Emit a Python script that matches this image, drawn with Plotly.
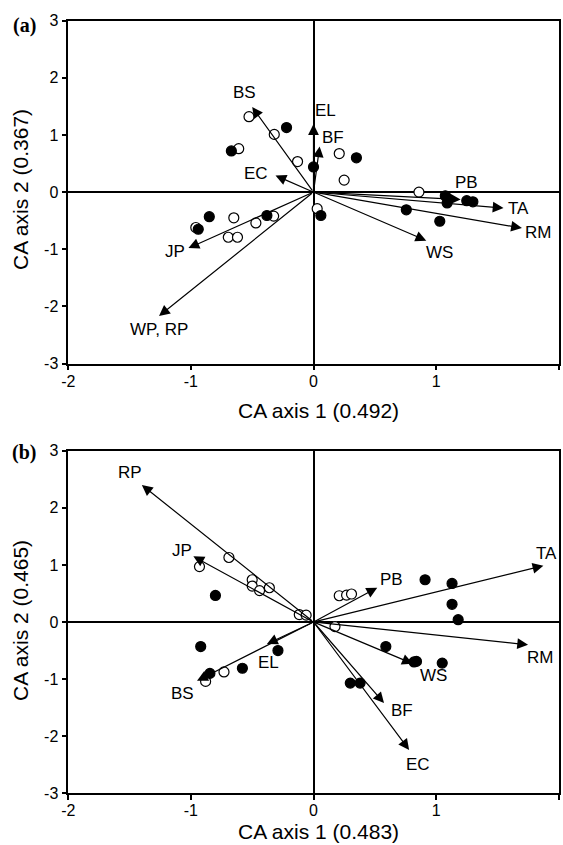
import plotly.graph_objects as go

# ---------------- Panel (a) data ----------------
a_vec_names = ["BS", "EL", "BF", "EC", "PB", "TA", "RM", "WS", "JP", "WP, RP"]
a_vec_x = [-0.50, 0.00, 0.05, -0.31, 1.20, 1.55, 1.70, 0.92, -1.02, -1.26]
a_vec_y = [1.49, 1.19, 0.80, 0.29, -0.13, -0.28, -0.63, -0.85, -0.98, -2.17]
a_lab_x = [-0.56, 0.10, 0.16, -0.47, 1.25, 1.67, 1.83, 1.03, -1.13, -1.26]
a_lab_y = [1.74, 1.43, 0.96, 0.33, 0.17, -0.29, -0.71, -1.06, -1.04, -2.41]

a_open_x = [-0.526, -0.32, -0.61, -0.13, 0.21, 0.25, 0.03, -0.65, -0.325, -0.47, -0.96, -0.695, -0.62, 0.86]
a_open_y = [1.32, 1.01, 0.76, 0.535, 0.675, 0.21, -0.29, -0.45, -0.42, -0.54, -0.62, -0.79, -0.79, 0.0]
a_fill_x = [-0.22, -0.67, 0.0, 0.35, 0.06, -0.85, -0.38, -0.94, 1.075, 1.09, 1.25, 1.30, 0.757, 1.03]
a_fill_y = [1.13, 0.72, 0.44, 0.60, -0.41, -0.43, -0.41, -0.65, -0.065, -0.19, -0.15, -0.17, -0.31, -0.51]

# ---------------- Panel (b) data ----------------
b_vec_names = ["RP", "JP", "PB", "TA", "RM", "WS", "BF", "EC", "EL", "BS"]
b_vec_x = [-1.40, -0.98, 0.52, 1.875, 1.75, 0.81, 0.575, 0.78, -0.38, -0.95]
b_vec_y = [2.40, 1.15, 0.60, 0.985, -0.40, -0.73, -1.42, -2.24, -0.385, -1.03]
b_lab_x = [-1.50, -1.075, 0.64, 1.90, 1.85, 0.98, 0.72, 0.855, -0.37, -1.07]
b_lab_y = [2.62, 1.26, 0.75, 1.20, -0.62, -0.94, -1.55, -2.50, -0.71, -1.26]

b_open_x = [-0.69, -0.93, -0.50, -0.50, -0.44, -0.36, -0.116, -0.06, 0.21, 0.27, 0.31, 0.175, -0.73, -0.88]
b_open_y = [1.13, 0.97, 0.74, 0.63, 0.55, 0.60, 0.13, 0.12, 0.46, 0.47, 0.49, -0.08, -0.875, -1.04]
b_fill_x = [-0.80, -0.92, -0.29, -0.58, -0.845, 0.91, 1.13, 1.13, 1.18, 0.59, 0.84, 0.82, 1.05, 0.30, 0.38]
b_fill_y = [0.465, -0.43, -0.50, -0.81, -0.90, 0.74, 0.675, 0.31, 0.04, -0.43, -0.69, -0.70, -0.72, -1.07, -1.07]

x_ticks = [-2, -1, 0, 1, 2]
x_tick_text = ["-2", "-1", "0", "1", "2"]
y_ticks = [-3, -2, -1, 0, 1, 2, 3]
y_tick_text = ["-3", "-2", "-1", "0", "1", "2", "3"]
a_xtitle = "CA axis 1 (0.492)"
a_ytitle = "CA axis 2 (0.367)"
b_xtitle = "CA axis 1 (0.483)"
b_ytitle = "CA axis 2 (0.465)"

FONT = "Arial, Liberation Sans, Helvetica, sans-serif"
W, H = 563, 845

fig = go.Figure()

def add_points(xs, ys, xa, ya, filled):
    fig.add_trace(go.Scatter(
        x=xs, y=ys, xaxis=xa, yaxis=ya, mode="markers",
        marker=dict(size=10, symbol="circle",
                    color="black" if filled else "white",
                    line=dict(color="black", width=1.2)),
        showlegend=False, hoverinfo="skip", cliponaxis=False))

add_points(a_open_x, a_open_y, "x", "y", False)
add_points(a_fill_x, a_fill_y, "x", "y", True)
add_points(b_open_x, b_open_y, "x2", "y2", False)
add_points(b_fill_x, b_fill_y, "x2", "y2", True)

annotations = []
def add_vectors(names, vx, vy, lx, ly, xr, yr):
    for n, x, y, tx, ty in zip(names, vx, vy, lx, ly):
        annotations.append(dict(
            x=x, y=y, ax=0, ay=0, xref=xr, yref=yr, axref=xr, ayref=yr,
            text="", showarrow=True, arrowhead=2, arrowsize=1.8,
            arrowwidth=1.2, arrowcolor="black", standoff=0, startstandoff=0))
        annotations.append(dict(
            x=tx, y=ty, xref=xr, yref=yr, text=n, showarrow=False,
            font=dict(family=FONT, size=17, color="black"),
            xanchor="center", yanchor="middle"))

add_vectors(a_vec_names, a_vec_x, a_vec_y, a_lab_x, a_lab_y, "x", "y")
add_vectors(b_vec_names, b_vec_x, b_vec_y, b_lab_x, b_lab_y, "x2", "y2")

def px_x(p):
    return p / W
def px_y(p):
    return 1 - p / H

# axis titles and panel letters
for txt, cy in [(a_xtitle, 410), (b_xtitle, 831)]:
    annotations.append(dict(x=px_x(318), y=px_y(cy), xref="paper", yref="paper",
                            text=txt, showarrow=False, xanchor="center", yanchor="middle",
                            font=dict(family=FONT, size=21, color="black")))
for txt, cy in [(a_ytitle, 190), (b_ytitle, 621)]:
    annotations.append(dict(x=px_x(20), y=px_y(cy), xref="paper", yref="paper",
                            text=txt, showarrow=False, textangle=-90,
                            xanchor="center", yanchor="middle",
                            font=dict(family=FONT, size=21, color="black")))
for txt, cy in [("<b>(a)</b>", 25), ("<b>(b)</b>", 452)]:
    annotations.append(dict(x=px_x(24), y=px_y(cy), xref="paper", yref="paper",
                            text=txt, showarrow=False, xanchor="center", yanchor="middle",
                            font=dict(family="Liberation Serif, Times New Roman, serif",
                                      size=20, color="black")))

axis_common = dict(showgrid=False, zeroline=True, zerolinecolor="black", zerolinewidth=1.5,
                   showline=True, linecolor="black", linewidth=1.6, mirror=True,
                   ticks="outside", ticklen=5, tickwidth=1.5, tickcolor="black",
                   automargin=False,
                   tickfont=dict(family=FONT, size=16, color="black"))

xdom = [68.3 / W, 558.7 / W]
fig.update_layout(
    width=W, height=H,
    margin=dict(l=0, r=0, t=0, b=0),
    paper_bgcolor="white", plot_bgcolor="white",
    xaxis=dict(domain=xdom, range=[-2, 2], tickvals=x_ticks, ticktext=x_tick_text,
               anchor="y", ticklabelstandoff=-3, **axis_common),
    yaxis=dict(domain=[px_y(363.5), px_y(20.7)], range=[-3, 3], tickvals=y_ticks,
               ticktext=y_tick_text, anchor="x", **axis_common),
    xaxis2=dict(domain=xdom, range=[-2, 2], tickvals=x_ticks, ticktext=x_tick_text,
                anchor="y2", ticklabelstandoff=-3, **axis_common),
    yaxis2=dict(domain=[px_y(793.3), px_y(450.7)], range=[-3, 3], tickvals=y_ticks,
                ticktext=y_tick_text, anchor="x2", **axis_common),
    annotations=annotations,
    showlegend=False,
)

fig.write_html("out.html", config={"displayModeBar": False},
               post_script="document.body.style.margin='0';document.body.style.overflow='hidden';")
